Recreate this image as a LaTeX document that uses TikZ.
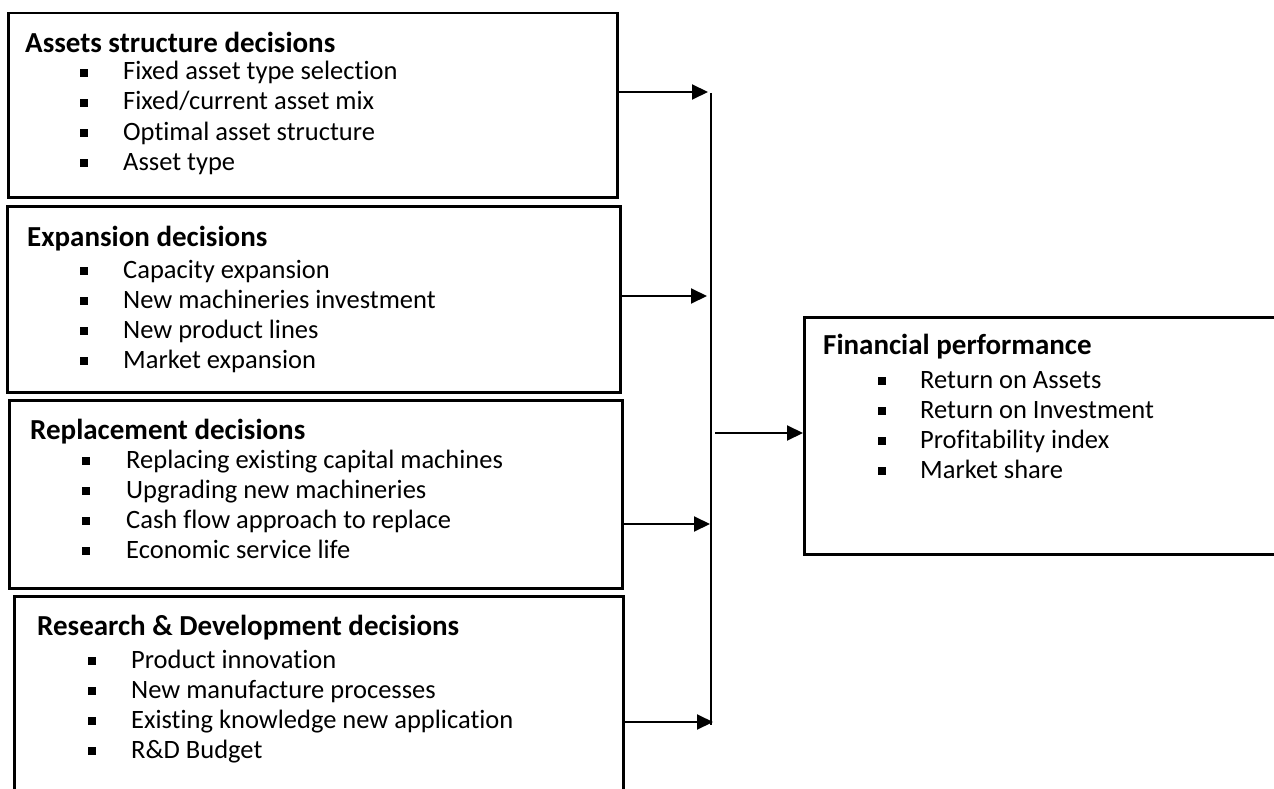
\documentclass[tikz,border=0pt]{standalone}
\usepackage{fontspec}
\setmainfont{Carlito}[Ligatures=NoCommon]
\usetikzlibrary{arrows.meta}
\begin{document}
\begin{tikzpicture}[x=1pt,y=-1pt,
  box/.style={draw,line width=2.5pt,rectangle,anchor=north west,inner sep=0pt},
  ttl/.style={anchor=base west,inner sep=0pt,font=\fontsize{29}{32}\selectfont\bfseries},
  itm/.style={anchor=base west,inner sep=0pt,font=\fontsize{26.5}{30}\selectfont},
  bul/.style={fill=black,minimum size=8pt,inner sep=0pt,anchor=south west},
  arr/.style={line width=2pt,-{Triangle[length=16pt,width=15pt]}},
  bus/.style={line width=2pt}]
\useasboundingbox (0,0) rectangle (1274,789);
\clip (0,0) rectangle (1274,789);

% boxes
\node[box,minimum width=609pt,minimum height=184pt] (b1) at (7,12) {};
\node[box,minimum width=613pt,minimum height=186pt] (b2) at (6,205) {};
\node[box,minimum width=613pt,minimum height=188pt] (b3) at (8,399) {};
\node[box,minimum width=609pt,minimum height=230pt] (b4) at (13,595) {};
\node[box,minimum width=490pt,minimum height=237pt] (fp) at (803,316) {};

% box 1
\node[ttl] (t1) at (25,53) {Assets structure decisions};
\foreach \txt [count=\i] in {Fixed asset type selection,Fixed/current asset mix,Optimal asset structure,Asset type}{
  \node[bul] (b1bul\i) at (80,80+30*\i-30-3) {};
  \node[itm] (b1it\i) at (123,80+30*\i-30) {\txt};
}
% box 2
\node[ttl] (t2) at (27,246) {Expansion decisions};
\foreach \txt [count=\i] in {Capacity expansion,New machineries investment,New product lines,Market expansion}{
  \node[bul] (b2bul\i) at (80,278+30*\i-30-3) {};
  \node[itm] (b2it\i) at (123,278+30*\i-30) {\txt};
}
% box 3
\node[ttl] (t3) at (30,439) {Replacement decisions};
\foreach \txt [count=\i] in {Replacing existing capital machines,Upgrading new machineries,Cash flow approach to replace,Economic service life}{
  \node[bul] (b3bul\i) at (82,468+30*\i-30-3) {};
  \node[itm] (b3it\i) at (126,468+30*\i-30) {\txt};
}
% box 4
\node[ttl] (t4) at (37,635) {Research \& Development decisions};
\foreach \txt [count=\i] in {Product innovation,New manufacture processes,Existing knowledge new application,R\&D Budget}{
  \node[bul] (b4bul\i) at (88,668+30*\i-30-3) {};
  \node[itm] (b4it\i) at (131,668+30*\i-30) {\txt};
}
% financial performance
\node[ttl] (t5) at (823,354) {Financial performance};
\foreach \txt [count=\i] in {Return on Assets,Return on Investment,Profitability index,Market share}{
  \node[bul] (fpbul\i) at (878,388+30*\i-30-3) {};
  \node[itm] (fpit\i) at (920,388+30*\i-30) {\txt};
}

% bus and connectors
\coordinate (busTop) at (711,93);
\coordinate (busBot) at (711,725);
\draw[bus] (busTop) -- (busBot);
\coordinate (e1) at (708,92);
\coordinate (e2) at (707,296);
\coordinate (e3) at (710,524);
\coordinate (e4) at (713,722);
\coordinate (s5) at (715,433);
\draw[arr] (b1.east |- e1) -- (e1);
\draw[arr] (b2.east |- e2) -- (e2);
\draw[arr] (b3.east |- e3) -- (e3);
\draw[arr] (b4.east |- e4) -- (e4);
\draw[arr] (s5) -- (fp.west |- s5);
\end{tikzpicture}
\end{document}
